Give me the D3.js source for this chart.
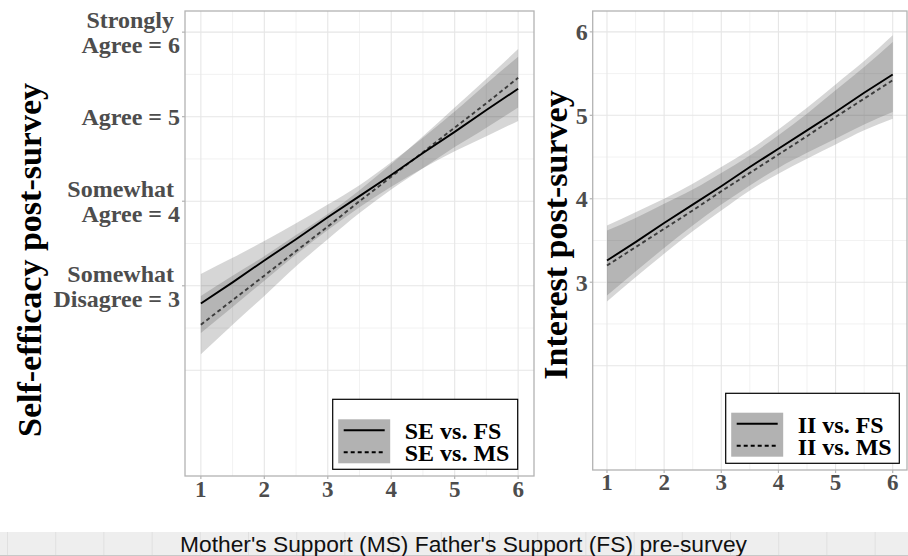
<!DOCTYPE html>
<html>
<head>
<meta charset="utf-8">
<script src="https://cdn.jsdelivr.net/npm/d3@7"></script>
<style>
  body { margin: 0; background: #fff; }
  .tick-label { font-family: "Liberation Serif", "DejaVu Serif", serif; font-weight: bold; fill: #4d4d4d; white-space: pre; }
  .axis-title { font-family: "Liberation Serif", "DejaVu Serif", serif; font-weight: bold; fill: #000; }
  .legend-text { font-family: "Liberation Serif", "DejaVu Serif", serif; font-weight: bold; fill: #000; }
</style>
</head>
<body>
<script>
// x positions the fits were read at
const xs = [1, 1.5, 2, 2.5, 3, 3.5, 4, 4.5, 5, 5.5, 6];

// Self-efficacy panel
const seFsFit  = [2.79, 3.04, 3.30, 3.55, 3.81, 4.06, 4.31, 4.57, 4.82, 5.08, 5.33];
const seFsLow  = [2.44, 2.75, 3.06, 3.37, 3.66, 3.93, 4.17, 4.39, 4.59, 4.77, 4.95];
const seFsHigh = [3.14, 3.33, 3.53, 3.74, 3.96, 4.19, 4.46, 4.75, 5.06, 5.39, 5.71];
const seMsFit  = [2.54, 2.83, 3.12, 3.41, 3.70, 4.00, 4.29, 4.58, 4.87, 5.16, 5.46];
const seMsLow  = [2.19, 2.54, 2.88, 3.23, 3.55, 3.86, 4.14, 4.39, 4.64, 4.87, 5.11];
const seMsHigh = [2.88, 3.12, 3.35, 3.60, 3.85, 4.13, 4.44, 4.77, 5.11, 5.45, 5.80];

// Interest panel
const iiFsFit  = [3.26, 3.48, 3.71, 3.93, 4.15, 4.38, 4.60, 4.82, 5.04, 5.27, 5.49];
const iiFsLow  = [2.84, 3.13, 3.41, 3.68, 3.93, 4.16, 4.37, 4.55, 4.72, 4.89, 5.04];
const iiFsHigh = [3.68, 3.84, 4.00, 4.18, 4.38, 4.59, 4.83, 5.09, 5.37, 5.65, 5.96];
const iiMsFit  = [3.20, 3.42, 3.64, 3.86, 4.09, 4.31, 4.53, 4.75, 4.98, 5.20, 5.42];
const iiMsLow  = [2.77, 3.06, 3.34, 3.61, 3.86, 4.10, 4.30, 4.48, 4.65, 4.82, 4.96];
const iiMsHigh = [3.62, 3.77, 3.94, 4.11, 4.31, 4.52, 4.76, 5.02, 5.30, 5.58, 5.88];

// ticks / grid
const xTicks = [1, 2, 3, 4, 5, 6];
const xGridMinor = [1.5, 2.5, 3.5, 4.5, 5.5];
const yTicks = [3, 4, 5, 6];
const yGridMajor = [2, 3, 4, 5, 6];
const yGridMinor = [2.5, 3.5, 4.5, 5.5];
const seTickLabels = ["Somewhat \nDisagree = 3", "Somewhat \nAgree = 4", "Agree = 5", "Strongly \nAgree = 6"];
const iiTickLabels = ["3", "4", "5", "6"];
const seLegend = ["SE vs. FS", "SE vs. MS"];
const iiLegend = ["II vs. FS", "II vs. MS"];
const xAxisTitle = "Mother's Support (MS) Father's Support (FS) pre-survey";

const W = 908, H = 556;
const svg = d3.select("body").append("svg").attr("width", W).attr("height", H);

function rows(fit, lo, hi) {
  return xs.map(function(v, i) { return { x: v, fit: fit[i], lo: lo[i], hi: hi[i] }; });
}

function drawPanel(p) {
  var x = d3.scaleLinear().domain([0.75, 6.25]).range([p.left, p.right]);
  var y = d3.scaleLinear().domain([0.75, 6.25]).range([p.bottom, p.top]);
  var g = svg.append("g");

  // grid
  g.selectAll(".gxm").data(xGridMinor).enter().append("line")
    .attr("x1", x).attr("x2", x).attr("y1", p.top).attr("y2", p.bottom)
    .attr("stroke", "#efefef").attr("stroke-width", 0.8);
  g.selectAll(".gym").data(yGridMinor).enter().append("line")
    .attr("x1", p.left).attr("x2", p.right).attr("y1", y).attr("y2", y)
    .attr("stroke", "#efefef").attr("stroke-width", 0.8);
  g.selectAll(".gx").data(xTicks).enter().append("line")
    .attr("x1", x).attr("x2", x).attr("y1", p.top).attr("y2", p.bottom)
    .attr("stroke", "#e6e6e6").attr("stroke-width", 1.1);
  g.selectAll(".gy").data(yGridMajor).enter().append("line")
    .attr("x1", p.left).attr("x2", p.right).attr("y1", y).attr("y2", y)
    .attr("stroke", "#e6e6e6").attr("stroke-width", 1.1);

  var area = d3.area()
    .x(function(d) { return x(d.x); })
    .y0(function(d) { return y(d.lo); })
    .y1(function(d) { return y(d.hi); })
    .curve(d3.curveMonotoneX);
  var line = d3.line()
    .x(function(d) { return x(d.x); })
    .y(function(d) { return y(d.fit); });

  p.series.forEach(function(s) {
    g.append("path").datum(s.data).attr("d", area)
      .attr("fill", "#333").attr("fill-opacity", 0.2);
  });
  p.series.slice().reverse().forEach(function(s) {
    g.append("path").datum(s.data).attr("d", line)
      .attr("fill", "none")
      .attr("stroke", s.dashed ? "#3c3c3c" : "#000")
      .attr("stroke-width", 1.9)
      .attr("stroke-dasharray", s.dashed ? "4,3" : null);
  });

  // panel border
  g.append("rect")
    .attr("x", p.left).attr("y", p.top)
    .attr("width", p.right - p.left).attr("height", p.bottom - p.top)
    .attr("fill", "none").attr("stroke", "#b3b3b3").attr("stroke-width", 1.3);

  // ticks
  g.selectAll(".tx").data(xTicks).enter().append("line")
    .attr("x1", x).attr("x2", x).attr("y1", p.bottom).attr("y2", p.bottom + 3)
    .attr("stroke", "#b3b3b3").attr("stroke-width", 1.2);
  g.selectAll(".ty").data(yTicks).enter().append("line")
    .attr("x1", p.left - 3).attr("x2", p.left).attr("y1", y).attr("y2", y)
    .attr("stroke", "#b3b3b3").attr("stroke-width", 1.2);

  g.selectAll(".xl").data(xTicks).enter().append("text")
    .attr("class", "tick-label")
    .attr("x", x).attr("y", p.bottom + p.xLabelDy)
    .attr("text-anchor", "middle").style("font-size", "23px")
    .text(function(d) { return d; });

  yTicks.forEach(function(v, i) {
    var lines = p.yLabels[i].split("\n");
    var t = g.append("text").attr("class", "tick-label")
      .attr("text-anchor", "end").style("font-size", "24px");
    lines.forEach(function(l, j) {
      t.append("tspan")
        .attr("x", p.left - 5)
        .attr("y", y(v) + 8.5 + (j - (lines.length - 1) / 2) * 25)
        .text(l);
    });
  });

  g.append("text").attr("class", "axis-title")
    .attr("transform", "translate(" + p.titleX + "," + p.titleY + ") rotate(-90)")
    .attr("text-anchor", "middle").style("font-size", "34px")
    .text(p.title);

  // legend
  var L = p.legend;
  var lg = g.append("g");
  lg.append("rect").attr("x", L.x).attr("y", L.y).attr("width", L.w).attr("height", L.h)
    .attr("fill", "#fff").attr("stroke", "#000").attr("stroke-width", 1.2);
  lg.append("rect").attr("x", L.x + 5.5).attr("y", L.y + L.keyTop).attr("width", 52).attr("height", 44)
    .attr("fill", "#b2b2b2");
  p.series.forEach(function(s, i) {
    var ly = L.y + L.keyTop + 11 + i * 22;
    lg.append("line").attr("x1", L.x + 11).attr("x2", L.x + 52).attr("y1", ly).attr("y2", ly)
      .attr("stroke", "#000").attr("stroke-width", 1.9)
      .attr("stroke-dasharray", s.dashed ? "4,3" : null);
    lg.append("text").attr("class", "legend-text")
      .attr("x", L.x + 72).attr("y", ly + 9).style("font-size", "24px")
      .text(p.legendLabels[i]);
  });
}

drawPanel({
  left: 185, right: 534, top: 11, bottom: 476, xLabelDy: 21,
  yLabels: seTickLabels, title: "Self-efficacy post-survey", titleX: 41, titleY: 260,
  series: [
    { data: rows(seFsFit, seFsLow, seFsHigh), dashed: false },
    { data: rows(seMsFit, seMsLow, seMsHigh), dashed: true }
  ],
  legendLabels: seLegend,
  legend: { x: 332.7, y: 399.3, w: 185, h: 70, keyTop: 20 }
});

drawPanel({
  left: 592.7, right: 907, top: 11, bottom: 470, xLabelDy: 20,
  yLabels: iiTickLabels, title: "Interest post-survey", titleX: 567, titleY: 235,
  series: [
    { data: rows(iiFsFit, iiFsLow, iiFsHigh), dashed: false },
    { data: rows(iiMsFit, iiMsLow, iiMsHigh), dashed: true }
  ],
  legendLabels: iiLegend,
  legend: { x: 725.7, y: 393.3, w: 173.6, h: 70, keyTop: 19.4 }
});

// bottom strip with the shared x title
var strip = svg.append("g");
strip.append("rect").attr("x", 0).attr("y", 532).attr("width", W).attr("height", H - 532)
  .attr("fill", "#eeeeee");
strip.selectAll("line").data(d3.range(7.5, W, 48.2)).enter().append("line")
  .attr("x1", function(d) { return d; }).attr("x2", function(d) { return d; })
  .attr("y1", 532).attr("y2", H)
  .attr("stroke", "#e0e0e0").attr("stroke-width", 1);
strip.append("line").attr("x1", 0).attr("x2", W).attr("y1", H - 0.5).attr("y2", H - 0.5)
  .attr("stroke", "#c8c8c8");
strip.append("text")
  .attr("x", 180).attr("y", 552)
  .attr("textLength", 567).attr("lengthAdjust", "spacingAndGlyphs")
  .style("font-family", "'Liberation Sans', Arial, sans-serif").style("font-size", "22px")
  .attr("fill", "#111")
  .text(xAxisTitle);
</script>
</body>
</html>
